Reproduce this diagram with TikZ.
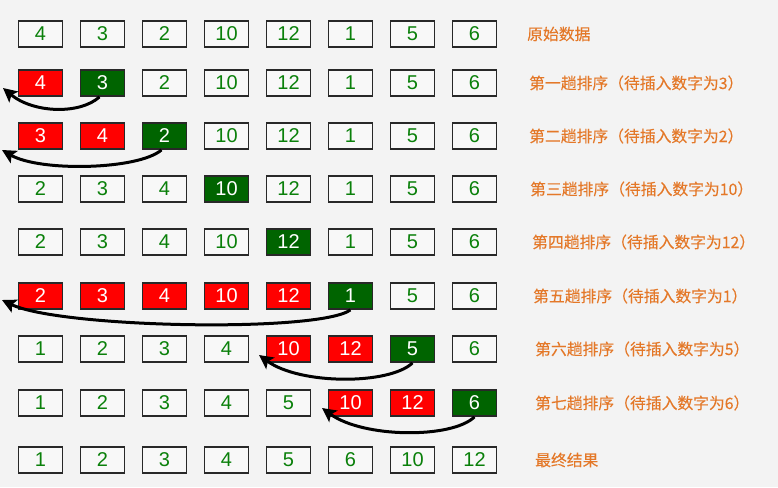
\documentclass[tikz,border=0pt]{standalone}
\usepackage{fontspec}
\setmainfont{Liberation Sans}
\newfontfamily\cjk[FakeBold=0.12]{Noto Sans CJK SC}
\usetikzlibrary{arrows.meta}
\definecolor{bg}{RGB}{243,243,243}
\definecolor{fillW}{RGB}{248,248,248}
\definecolor{fillR}{RGB}{255,0,0}
\definecolor{fillG}{RGB}{0,100,0}
\definecolor{txtW}{RGB}{10,128,10}
\definecolor{txtR}{RGB}{255,255,255}
\definecolor{txtG}{RGB}{255,255,255}
\definecolor{edge}{RGB}{40,40,40}
\definecolor{lab}{RGB}{228,120,40}
\tikzset{
  cell/.style={draw=edge, line width=1.8pt, minimum width=44pt, minimum height=26pt,
    inner sep=0pt, font=\fontsize{20}{20}\selectfont},
  lbl/.style={anchor=west, text=lab, inner sep=0pt, font=\cjk\fontsize{15.8}{16}\selectfont},
  arr/.style={line width=3pt, black, -{Stealth[length=14pt,width=14pt,inset=3pt]}}
}
\newcommand{\boxrow}[3]{%
  \foreach \v/\s [count=\i] in {#3} {%
    \node[cell, fill=fill\s, text=txt\s] (b#1-\i) at ({40.5+62*(\i-1)},#2) {\v};%
  }%
}
\begin{document}
\begin{tikzpicture}[x=1pt,y=-1pt]
\path[fill=bg] (0,0) rectangle (778,487);
\useasboundingbox (0,0) rectangle (778,487);

\boxrow{0}{34}{4/W,3/W,2/W,10/W,12/W,1/W,5/W,6/W}
\boxrow{1}{83}{4/R,3/G,2/W,10/W,12/W,1/W,5/W,6/W}
\boxrow{2}{136}{3/R,4/R,2/G,10/W,12/W,1/W,5/W,6/W}
\boxrow{3}{189}{2/W,3/W,4/W,10/G,12/W,1/W,5/W,6/W}
\boxrow{4}{242}{2/W,3/W,4/W,10/W,12/G,1/W,5/W,6/W}
\boxrow{5}{296}{2/R,3/R,4/R,10/R,12/R,1/G,5/W,6/W}
\boxrow{6}{349}{1/W,2/W,3/W,4/W,10/R,12/R,5/G,6/W}
\boxrow{7}{403}{1/W,2/W,3/W,4/W,5/W,10/R,12/R,6/G}
\boxrow{8}{460}{1/W,2/W,3/W,4/W,5/W,6/W,10/W,12/W}

\node[lbl] (l0) at (527,34) {原始数据};
\node[lbl] (l1) at (529,83) {第一趟排序（待插入数字为3）};
\node[lbl] (l2) at (529,136) {第二趟排序（待插入数字为2）};
\node[lbl] (l3) at (530,189) {第三趟排序（待插入数字为10）};
\node[lbl] (l4) at (532,242) {第四趟排序（待插入数字为12）};
\node[lbl] (l5) at (533,296) {第五趟排序（待插入数字为1）};
\node[lbl] (l6) at (535,349) {第六趟排序（待插入数字为5）};
\node[lbl] (l7) at (535,403) {第七趟排序（待插入数字为6）};
\node[lbl] (l8) at (535,460) {最终结果};

\coordinate (t1) at (3,88);
\coordinate (t2) at (2,150);
\coordinate (t5) at (2,300);
\coordinate (t6) at (259,355);
\coordinate (t7) at (322,408);

\draw[arr] ([xshift=-3pt]b1-2.south) .. controls +(-20,18) and +(30,25) .. (t1);
\draw[arr] ([xshift=-3pt]b2-3.south) .. controls +(-23,20) and +(38,22) .. (t2);
\draw[arr] (b5-6.south) .. controls +(-32,23) and +(58,28) .. (t5);
\draw[arr] (b6-7.south) .. controls +(-23,22) and +(41,30) .. (t6);
\draw[arr] (b7-8.south) .. controls +(-23,22) and +(41,30) .. (t7);
\end{tikzpicture}
\end{document}
